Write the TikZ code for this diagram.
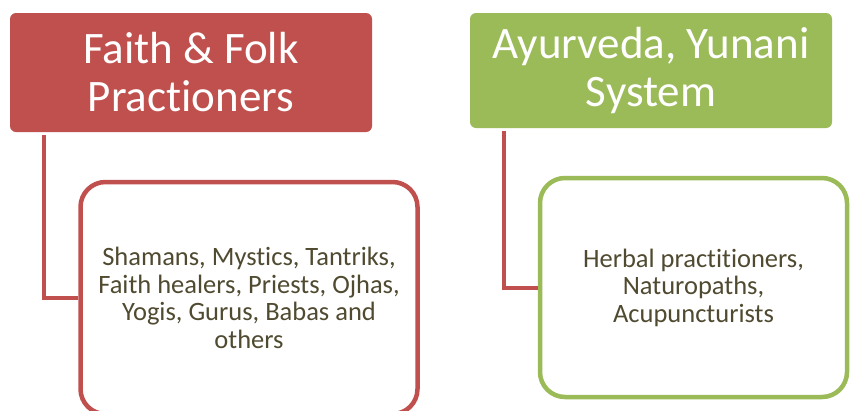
\documentclass[tikz,border=0pt]{standalone}
\usepackage{fontspec}
\setmainfont[Ligatures=NoCommon]{Carlito}
\usetikzlibrary{positioning}
\definecolor{folkred}{HTML}{C0504D}
\definecolor{ayugreen}{HTML}{9BBB59}
\definecolor{subtext}{HTML}{4F4A30}

\begin{document}
\begin{tikzpicture}[
    x=1pt, y=-1pt,
    head/.style={rounded corners=6pt, align=center, text=white,
                 minimum width=362pt, font=\fontsize{45}{48}\selectfont},
    sub/.style={line width=4.5pt, rounded corners=25pt, align=center, fill=white,
                text=subtext, font=\fontsize{26.5}{27.5}\selectfont},
    link/.style={folkred, line width=4pt, shorten <=3pt}
]
\useasboundingbox (0,0) rectangle (850,410);
\clip (0,0) rectangle (850,410);
\node[head, fill=folkred, minimum height=119pt] (faith) at (191,72.5) {Faith \& Folk\\Practioners};
\node[head, fill=ayugreen, minimum height=115pt] (ayur) at (651,70.5) {Ayurveda, Yunani\\System};
\node[sub, draw=folkred, minimum width=337pt, minimum height=232pt] (faithsub) at (249,298)
    {Shamans, Mystics, Tantriks,\\Faith healers, Priests, Ojhas,\\Yogis, Gurus, Babas and\\others};
\node[sub, draw=ayugreen, minimum width=307pt, minimum height=219pt] (ayursub) at (693.5,287.5)
    {Herbal practitioners,\\Naturopaths,\\Acupuncturists};
\draw[link] ([xshift=34pt]faith.south west) |- (faithsub.west);
\draw[link] ([xshift=34pt]ayur.south west) |- (ayursub.west);
\end{tikzpicture}
\end{document}
